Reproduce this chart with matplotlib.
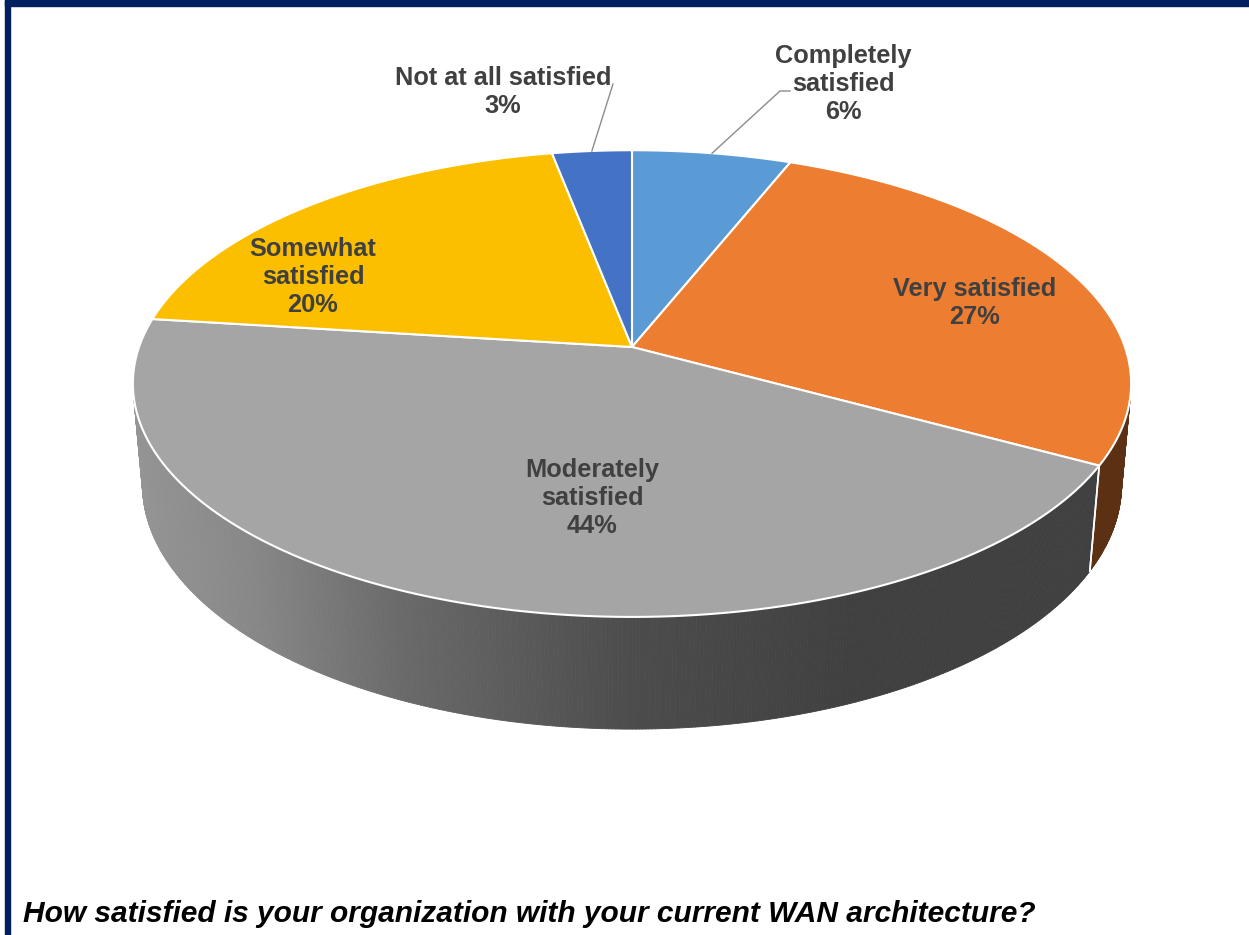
import numpy as np
import matplotlib.pyplot as plt
from matplotlib.collections import PolyCollection
from matplotlib.patches import Polygon, Rectangle

plt.rcParams['font.family'] = ['Liberation Sans', 'DejaVu Sans']

# survey answers, clockwise from 12 o'clock
categories = ['Completely satisfied', 'Very satisfied', 'Moderately satisfied',
              'Somewhat satisfied', 'Not at all satisfied']
label_lines = ['Completely\nsatisfied', 'Very satisfied', 'Moderately\nsatisfied',
               'Somewhat\nsatisfied', 'Not at all satisfied']
shares = [6, 27, 44, 20, 3]
colors = ['#5B9BD5', '#ED7D31', '#A5A5A5', '#FBBF00', '#4472C4']
question = 'How satisfied is your organization with your current WAN architecture?'

# label anchor points (pixels) and leader line elbows (None = no leader)
label_pos = [(843, 84), (975, 303), (592, 498), (313, 277), (503, 92)]
leader_elbow = [(780, 91), None, None, None, (613, 84)]

# 3d pie geometry: centre on screen, focal length, camera distance, tilt, thickness
CX, CY = 632, 347
F, D = 2790.0, 5.66
TILT = np.radians(27.5)
H = 0.233
sp, cp = np.sin(TILT), np.cos(TILT)


def project(theta, z):
    x = np.sin(theta)
    y = np.cos(theta)
    u = x
    v = y * sp + z * cp
    w = D + y * cp - z * sp
    return CX + F * u / w, CY - F * v / w


def side_shade(px):
    return np.interp(px, [133, 250, 400, 632, 850, 1130],
                     [0.90, 0.82, 0.64, 0.46, 0.39, 0.39])


def darken(col, k):
    r, g, b = plt.matplotlib.colors.to_rgb(col)
    return (r * k, g * k, b * k)


fig = plt.figure(figsize=(12.49, 9.35), dpi=100)
ax = fig.add_axes([0, 0, 1, 1])
ax.set_xlim(0, 1249)
ax.set_ylim(935, 0)
ax.axis('off')

# navy frame along the top and the left side
navy = '#002060'
ax.add_patch(Rectangle((5, 0), 1244, 6, color=navy, clip_on=False))
ax.add_patch(Rectangle((5, 0), 5, 935, color=navy, clip_on=False))

bounds = np.concatenate([[0], np.cumsum(shares)]) / sum(shares) * 2 * np.pi
vis_lo = np.arccos(-1.0 / (D * cp))
vis_hi = 2 * np.pi - vis_lo

# side walls (only the part facing the camera)
quads, qcols = [], []
edges = []
for i, col in enumerate(colors):
    a0, a1 = bounds[i], bounds[i + 1]
    lo, hi = max(a0, vis_lo), min(a1, vis_hi)
    if hi <= lo:
        continue
    t = np.linspace(lo, hi, max(int(np.degrees(hi - lo) * 3), 2))
    for ta, tb in zip(t[:-1], t[1:]):
        p1 = project(ta, 0)
        p2 = project(tb, 0)
        p3 = project(tb, -H)
        p4 = project(ta, -H)
        quads.append([p1, p2, p3, p4])
        qcols.append(darken(col, side_shade((p1[0] + p2[0]) / 2)))
    for a in (a0, a1):
        if vis_lo < a < vis_hi:
            edges.append(a)

ax.add_collection(PolyCollection(quads, facecolors=qcols, edgecolors=qcols,
                                 linewidths=0.6, zorder=1))
for a in edges:
    xt, yt = project(a, 0)
    xb, yb = project(a, -H)
    ax.plot([xt, xb], [yt, yb], color='white', lw=1.2, zorder=2)

# top faces
for i, col in enumerate(colors):
    t = np.linspace(bounds[i], bounds[i + 1], 400)
    xs, ys = project(t, 0)
    pts = np.column_stack([np.r_[CX, xs], np.r_[CY, ys]])
    ax.add_patch(Polygon(pts, closed=True, facecolor=col, edgecolor='white',
                         lw=1.5, joinstyle='round', zorder=3))

# data labels with leader lines
for i, name in enumerate(label_lines):
    lx, ly = label_pos[i]
    ax.text(lx, ly, f'{name}\n{shares[i]}%', ha='center', va='center',
            fontsize=18.3, fontweight='bold', color='#404040',
            linespacing=1.22, zorder=5)
    if leader_elbow[i] is not None:
        mid = (bounds[i] + bounds[i + 1]) / 2
        mx, my = project(mid, 0)
        ex, ey = leader_elbow[i]
        xs = [mx, ex]
        ys = [my, ey]
        if ex < lx:
            xs.append(ex + 10)
            ys.append(ey)
        ax.plot(xs, ys, color='#8c8c8c', lw=1, zorder=4)

ax.text(23, 922, question, ha='left', va='baseline', fontsize=21.5,
        fontweight='bold', fontstyle='italic', color='black')

fig.savefig('out.png', dpi=100)
